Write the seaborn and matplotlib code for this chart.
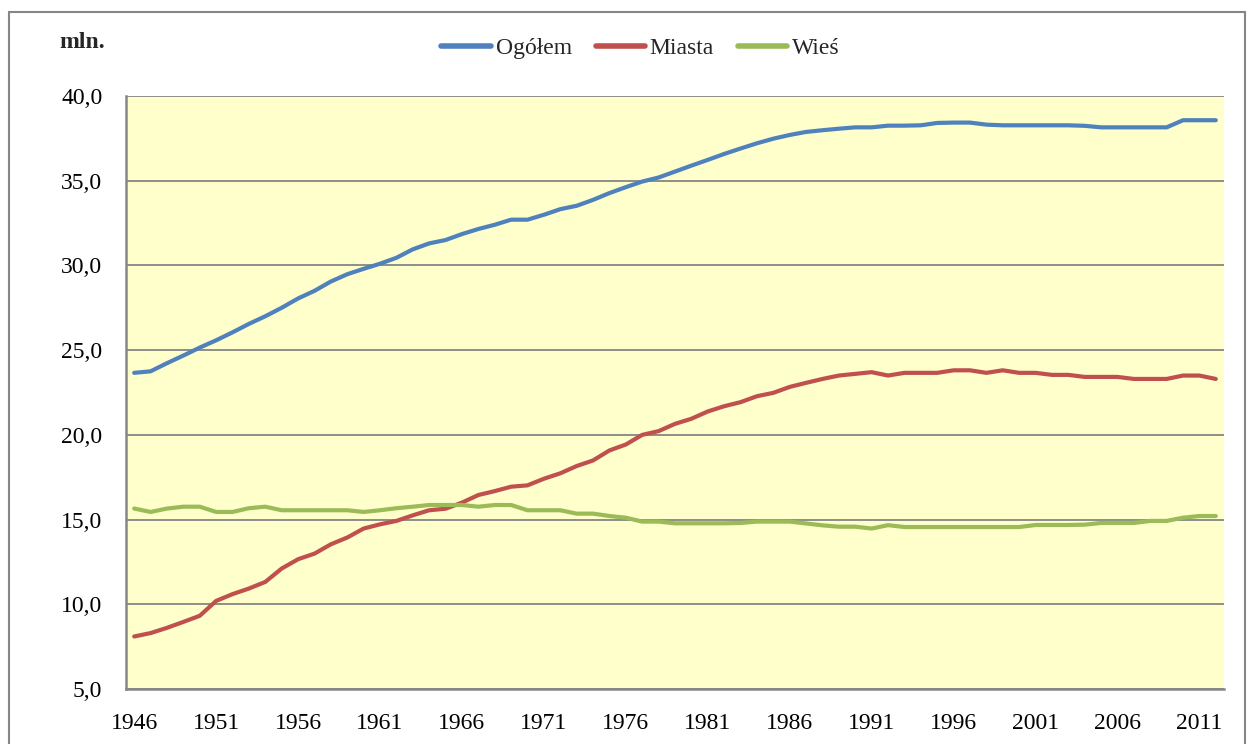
import pandas as pd
import matplotlib
matplotlib.use("Agg")
import matplotlib.pyplot as plt
import matplotlib.ticker as mticker
from matplotlib.patches import Rectangle
import seaborn as sns

# Data (mln)
years = list(range(1946, 2013))

ogolem = [23.66, 23.75, 24.23, 24.68, 25.15, 25.58, 26.05, 26.55, 27.0, 27.5,
          28.05, 28.5, 29.05, 29.48, 29.8, 30.1, 30.45, 30.95, 31.3, 31.5,
          31.85, 32.15, 32.4, 32.7, 32.7, 32.99, 33.32, 33.52, 33.87, 34.27,
          34.62, 34.95, 35.19, 35.54, 35.89, 36.23, 36.58, 36.9, 37.21, 37.48,
          37.7, 37.88, 37.98, 38.07, 38.15, 38.15, 38.25, 38.25, 38.27, 38.41,
          38.43, 38.43, 38.31, 38.27, 38.27, 38.27, 38.27, 38.27, 38.24, 38.15,
          38.15, 38.15, 38.15, 38.15, 38.57, 38.57, 38.57]

miasta = [8.1, 8.3, 8.61, 8.96, 9.32, 10.2, 10.6, 10.93, 11.32, 12.11,
          12.66, 12.99, 13.54, 13.94, 14.47, 14.72, 14.92, 15.25, 15.55, 15.64,
          16.0, 16.45, 16.68, 16.94, 17.02, 17.41, 17.73, 18.16, 18.49, 19.08,
          19.43, 20.0, 20.22, 20.65, 20.95, 21.38, 21.69, 21.93, 22.28, 22.48,
          22.83, 23.07, 23.3, 23.5, 23.6, 23.7, 23.5, 23.66, 23.66, 23.66,
          23.81, 23.81, 23.66, 23.81, 23.66, 23.66, 23.54, 23.54, 23.42, 23.42,
          23.42, 23.3, 23.3, 23.3, 23.5, 23.5, 23.3]

wies = [15.65, 15.45, 15.65, 15.76, 15.76, 15.45, 15.45, 15.67, 15.76, 15.55,
        15.55, 15.55, 15.55, 15.55, 15.45, 15.55, 15.67, 15.76, 15.86, 15.86,
        15.86, 15.76, 15.86, 15.86, 15.55, 15.55, 15.55, 15.35, 15.35, 15.21,
        15.11, 14.88, 14.88, 14.78, 14.78, 14.78, 14.78, 14.8, 14.88, 14.88,
        14.88, 14.77, 14.66, 14.58, 14.58, 14.47, 14.67, 14.56, 14.56, 14.56,
        14.56, 14.56, 14.56, 14.56, 14.56, 14.68, 14.68, 14.68, 14.7, 14.8,
        14.8, 14.8, 14.92, 14.92, 15.11, 15.21, 15.21]

series_names = ["Ogółem", "Miasta", "Wieś"]
colors = ["#4F81BD", "#C0504D", "#9BBB59"]

df = pd.DataFrame({"Rok": years, "Ogółem": ogolem, "Miasta": miasta, "Wieś": wies})
df = df.melt(id_vars="Rok", var_name="Seria", value_name="mln")

sns.set_style("white")
plt.rcParams["font.family"] = ["Liberation Serif", "DejaVu Serif"]

fig = plt.figure(figsize=(12.56, 7.44), dpi=100)
ax = fig.add_axes([126 / 1256, 1 - 689 / 744, (1224 - 126) / 1256, (689 - 96) / 744])

# outer chart frame
fig.patches.append(Rectangle((9 / 1256, -0.05), (1245 - 9) / 1256, 0.05 + 1 - 12 / 744,
                             transform=fig.transFigure, fill=False,
                             edgecolor="#868686", lw=1.5))

ax.set_facecolor("#FFFFCC")

sns.lineplot(data=df, x="Rok", y="mln", hue="Seria", hue_order=series_names,
             palette=colors, linewidth=3.0, ax=ax, legend=False)
for ln in ax.lines:
    ln.set_solid_capstyle("round")
    ln.set_solid_joinstyle("round")

ax.set_xlim(1945.5, 2012.5)
ax.set_ylim(5, 40)
ax.set_xticks(list(range(1946, 2012, 5)))
ax.set_yticks([5, 10, 15, 20, 25, 30, 35, 40])
ax.yaxis.set_major_formatter(mticker.FuncFormatter(lambda v, p: f"{v:.1f}".replace(".", ",")))
ax.set_xlabel("")
ax.set_ylabel("")

ax.yaxis.grid(True, color="#868686", linewidth=1.3)
ax.xaxis.grid(False)
ax.set_axisbelow(True)

for side in ["top", "right"]:
    ax.spines[side].set_visible(False)
for side in ["left", "bottom"]:
    ax.spines[side].set_color("#868686")
    ax.spines[side].set_linewidth(1.8)

ax.tick_params(axis="both", length=0, labelsize=17, colors="black")
ax.tick_params(axis="y", pad=17)
ax.tick_params(axis="x", pad=17)

fig.text(59 / 1256, 1 - 43 / 744, "mln.", fontsize=17, fontweight="bold",
         ha="left", va="center")

handles = [plt.Line2D([], [], color=c, lw=4, solid_capstyle="round") for c in colors]
fig.legend(handles, series_names, loc="center", bbox_to_anchor=(0.51, 1 - 48 / 744),
           ncol=3, frameon=False, fontsize=17, handlelength=2.1,
           handletextpad=0.2, columnspacing=1.0)

fig.savefig("out.png", dpi=100)
